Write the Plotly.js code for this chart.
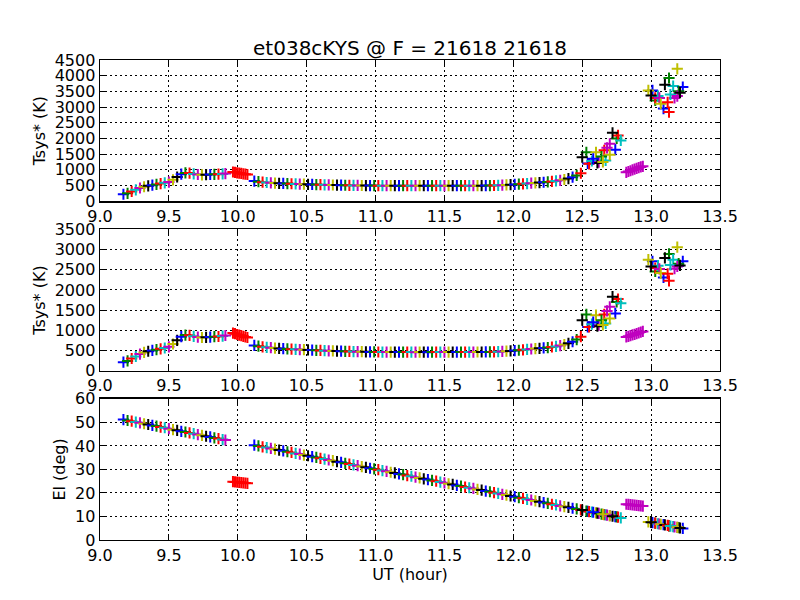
<!DOCTYPE html>
<html>
<head>
<meta charset="utf-8">
<script src="https://cdn.plot.ly/plotly-3.0.1.min.js"></script>
<style>
  body { margin: 0; background: white; }
  #tsys { width: 800px; height: 600px; }
</style>
</head>
<body>
<div id="tsys"></div>
<script>
// scan before 10h
let utScan1 = [9.17, 9.20, 9.23, 9.26, 9.29, 9.32, 9.35, 9.38, 9.41, 9.44, 9.47, 9.50, 9.53,
               9.56, 9.59, 9.62, 9.65, 9.68, 9.71, 9.74, 9.77, 9.80, 9.83, 9.86, 9.89, 9.91];
let tsys1Scan1 = [220, 250, 310, 360, 420, 460, 490, 510, 535, 560, 585, 610, 680,
                  770, 860, 900, 895, 870, 850, 840, 845, 850, 855, 860, 870, 880];
let tsys2Scan1 = [210, 240, 300, 350, 410, 450, 480, 500, 520, 540, 560, 590, 660,
                  750, 840, 880, 875, 850, 830, 820, 825, 830, 840, 845, 855, 870];
let elScan1 = [51.2, 50.8, 50.5, 50.1, 49.8, 49.4, 49.1, 48.7, 48.4, 48.0, 47.7, 47.3, 46.9,
               46.6, 46.2, 45.9, 45.5, 45.2, 44.8, 44.5, 44.1, 43.8, 43.4, 43.1, 42.7, 42.5];

// red scan at 10h
let utRed = [9.965, 9.98, 9.995, 10.01, 10.025, 10.04, 10.055, 10.07];
let tsys1Red = [930, 920, 905, 895, 885, 870, 860, 850];
let tsys2Red = [930, 915, 895, 880, 865, 850, 835, 820];
let elRed = [24.8, 24.7, 24.6, 24.5, 24.4, 24.3, 24.2, 24.1];

// long track 10.1h - 12.5h
let utScan2 = [10.12, 10.15, 10.18, 10.21, 10.24, 10.27, 10.30, 10.33, 10.36, 10.39,
               10.42, 10.45, 10.48, 10.51, 10.54, 10.57, 10.60, 10.63, 10.66, 10.69,
               10.72, 10.75, 10.78, 10.81, 10.84, 10.87, 10.90, 10.93, 10.96, 10.99,
               11.02, 11.05, 11.08, 11.11, 11.14, 11.17, 11.20, 11.23, 11.26, 11.29,
               11.32, 11.35, 11.38, 11.41, 11.44, 11.47, 11.50, 11.53, 11.56, 11.59,
               11.62, 11.65, 11.68, 11.71, 11.74, 11.77, 11.80, 11.83, 11.86, 11.89,
               11.92, 11.95, 11.98, 12.01, 12.04, 12.07, 12.10, 12.13, 12.16, 12.19,
               12.22, 12.25, 12.28, 12.31, 12.34, 12.37, 12.40, 12.43, 12.46, 12.49];
let tsys1Scan2 = [640, 620, 605, 595, 585, 578, 570, 565, 560, 555,
                  550, 545, 542, 538, 534, 530, 526, 522, 518, 515,
                  512, 510, 507, 505, 503, 501, 500, 498, 497, 496,
                  495, 495, 494, 494, 495, 494, 493, 494, 495, 494,
                  494, 493, 494, 495, 494, 494, 493, 494, 494, 495,
                  494, 494, 495, 494, 495, 495, 496, 497, 500, 505,
                  510, 517, 525, 533, 542, 552, 562, 573, 583, 593,
                  603, 615, 628, 645, 665, 690, 720, 765, 820, 890];
let tsys2Scan2 = [625, 605, 590, 578, 568, 558, 550, 544, 538, 532,
                  527, 522, 518, 513, 508, 503, 499, 495, 491, 487,
                  484, 481, 478, 475, 472, 470, 468, 466, 464, 462,
                  461, 460, 460, 459, 460, 459, 459, 460, 459, 458,
                  459, 459, 458, 459, 459, 460, 459, 459, 460, 459,
                  460, 460, 459, 460, 461, 461, 462, 463, 466, 470,
                  475, 481, 488, 496, 505, 515, 525, 535, 545, 553,
                  562, 572, 585, 600, 620, 645, 675, 715, 770, 840];
let elScan2 = [40.3, 40.0, 39.6, 39.3, 38.9, 38.6, 38.2, 37.9, 37.5, 37.2,
               36.8, 36.5, 36.1, 35.8, 35.4, 35.1, 34.7, 34.4, 34.0, 33.7,
               33.3, 33.0, 32.6, 32.3, 31.9, 31.6, 31.2, 30.9, 30.5, 30.2,
               29.9, 29.5, 29.2, 28.8, 28.5, 28.1, 27.8, 27.4, 27.1, 26.7,
               26.4, 26.0, 25.7, 25.3, 25.0, 24.6, 24.3, 23.9, 23.6, 23.2,
               22.9, 22.5, 22.2, 21.9, 21.5, 21.2, 20.8, 20.5, 20.1, 19.8,
               19.4, 19.1, 18.7, 18.4, 18.0, 17.7, 17.3, 17.0, 16.6, 16.3,
               15.9, 15.6, 15.2, 14.9, 14.5, 14.2, 13.9, 13.5, 13.2, 12.8];

// end of the long track, where it spreads out
let utTail = [12.54, 12.53, 12.55, 12.57, 12.62, 12.60, 12.50, 12.74, 12.75, 12.66, 12.67,
              12.70, 12.70, 12.61, 12.58, 12.64, 12.76, 12.78, 12.68, 12.65, 12.72];
let tsys1Tail = [1200, 1560, 1190, 1280, 1245, 1560, 1400, 1640, 2000, 1620, 1300,
                 1830, 1480, 1220, 1350, 1420, 2095, 1935, 1700, 1250, 2180];
let tsys2Tail = [1083, 1392, 1083, 1150, 1125, 1375, 1250, 1417, 1700, 1392, 1167,
                 1583, 1292, 1100, 1200, 1250, 1775, 1667, 1480, 1130, 1833];
let elTail = [12.2, 12.3, 12.1, 11.9, 11.3, 11.5, 12.7, 9.9, 9.8, 10.8, 10.7,
              10.4, 10.4, 11.4, 11.8, 11.0, 9.7, 9.4, 10.6, 10.9, 10.1];

// magenta scan near 12.9h
let utMag = [12.82, 12.835, 12.85, 12.865, 12.88, 12.895, 12.91, 12.925, 12.94];
let tsys1Mag = [920, 945, 970, 995, 1020, 1045, 1070, 1090, 1110];
let tsys2Mag = [835, 850, 868, 885, 900, 918, 935, 955, 970];
let elMag = [15.2, 15.1, 15.0, 14.9, 14.8, 14.7, 14.6, 14.5, 14.4];

// last scan, after 13h
let utEnd = [13.01, 13.03, 13.03, 13.05, 13.06, 12.98, 13.00, 13.09, 13.13, 13.13, 13.16,
             13.17, 13.07, 13.10, 13.23, 13.20, 13.12, 13.14, 13.19, 13.19, 13.21];
let tsys1End = [3530, 3210, 3290, 3350, 3290, 3530, 3372, 2950, 3926, 2840, 3670,
                3290, 3106, 3713, 3640, 3500, 3150, 3400, 3350, 4220, 3457];
let tsys2End = [2708, 2458, 2542, 2600, 2520, 2750, 2583, 2308, 2892, 2225, 2750,
                2525, 2417, 2792, 2708, 2650, 2400, 2620, 2580, 3058, 2608];
let elEnd = [7.4, 7.2, 7.2, 6.9, 6.8, 7.7, 7.5, 6.5, 6.0, 6.0, 5.7,
             5.6, 6.7, 6.4, 4.9, 5.3, 6.2, 5.9, 5.4, 5.4, 5.1];

// matplotlib classic colour cycle
let colorCycle = ['#0000ff', '#008000', '#ff0000', '#00bfbf', '#bf00bf', '#bfbf00', '#000000'];

let fontName = 'DejaVu Sans, Bitstream Vera Sans, sans-serif';

function cycled(n) {
    let out = [];
    for (let i = 0; i < n; i++) {
        out.push(colorCycle[i % colorCycle.length]);
    }
    return out;
}

function plusTrace(x, y, colors, xa, ya) {
    return {
        x: x,
        y: y,
        xaxis: xa,
        yaxis: ya,
        type: 'scatter',
        mode: 'markers',
        hoverinfo: 'skip',
        marker: {
            symbol: 'cross-thin-open',
            size: 8,
            color: colors,
            line: { width: 2, color: colors }
        }
    };
}

function panel(values, xa, ya) {
    // values: [scan1, red, scan2, tail, magenta, end]
    let traces = [];
    traces.push(plusTrace(utScan1, values[0], cycled(utScan1.length), xa, ya));
    traces.push(plusTrace(utRed, values[1], '#ff0000', xa, ya));
    traces.push(plusTrace(utScan2, values[2], cycled(utScan2.length), xa, ya));
    traces.push(plusTrace(utTail, values[3], cycled(utTail.length), xa, ya));
    traces.push(plusTrace(utMag, values[4], '#bf00bf', xa, ya));
    traces.push(plusTrace(utEnd, values[5], cycled(utEnd.length), xa, ya));
    return traces;
}

function xAxis(anchor, titleText) {
    let ax = {
        anchor: anchor,
        range: [9, 13.5],
        tick0: 9,
        dtick: 0.5,
        tickformat: '.1f',
        showgrid: true,
        gridcolor: 'black',
        gridwidth: 1,
        griddash: '2px,3px',
        zeroline: false,
        showline: true,
        linecolor: 'black',
        linewidth: 1.4,
        mirror: 'ticks',
        ticks: 'inside',
        ticklen: 5,
        tickcolor: 'black',
        tickfont: { family: fontName, size: 16, color: 'black' }
    };
    if (titleText) {
        ax.title = { text: titleText, font: { family: fontName, size: 16, color: 'black' }, standoff: 0 };
    }
    return ax;
}

function yAxis(anchor, domain, maxVal, step, titleText) {
    return {
        anchor: anchor,
        domain: domain,
        range: [0, maxVal],
        tick0: 0,
        dtick: step,
        showgrid: true,
        gridcolor: 'black',
        gridwidth: 1,
        griddash: '2px,3px',
        zeroline: false,
        showline: true,
        linecolor: 'black',
        linewidth: 1.4,
        mirror: 'ticks',
        ticks: 'inside',
        ticklen: 5,
        tickcolor: 'black',
        tickfont: { family: fontName, size: 16, color: 'black' },
        title: { text: titleText, font: { family: fontName, size: 16, color: 'black' }, standoff: 5 }
    };
}

function graph() {
    let data = [];
    data = data.concat(panel([tsys1Scan1, tsys1Red, tsys1Scan2, tsys1Tail, tsys1Mag, tsys1End], 'x3', 'y3'));
    data = data.concat(panel([tsys2Scan1, tsys2Red, tsys2Scan2, tsys2Tail, tsys2Mag, tsys2End], 'x2', 'y2'));
    data = data.concat(panel([elScan1, elRed, elScan2, elTail, elMag, elEnd], 'x', 'y'));

    let layout = {
        width: 800,
        height: 600,
        showlegend: false,
        paper_bgcolor: 'white',
        plot_bgcolor: 'white',
        margin: { l: 100, r: 80, t: 60, b: 60 },
        title: {
            text: 'et038cKYS @ F = 21618 21618',
            font: { family: fontName, size: 20, color: 'black' },
            xref: 'paper',
            x: 0.5,
            xanchor: 'center',
            yref: 'paper',
            y: 1,
            yanchor: 'bottom',
            pad: { b: 5 }
        },
        xaxis: xAxis('y', 'UT (hour)'),
        xaxis2: xAxis('y2'),
        xaxis3: xAxis('y3'),
        yaxis: yAxis('x', [0, 0.2941], 60, 10, 'El (deg)'),
        yaxis2: yAxis('x2', [0.3529, 0.6471], 3500, 500, 'Tsys* (K)'),
        yaxis3: yAxis('x3', [0.7059, 1], 4500, 500, 'Tsys* (K)')
    };

    Plotly.newPlot('tsys', data, layout, { staticPlot: true });
}

graph();
</script>
</body>
</html>
